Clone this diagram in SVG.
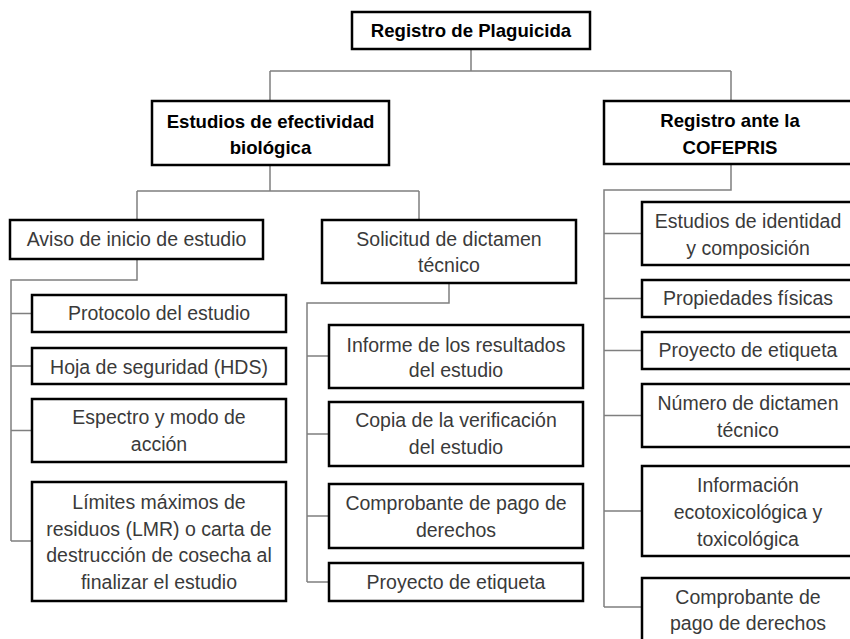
<svg xmlns="http://www.w3.org/2000/svg" width="850" height="639" viewBox="0 0 850 639">
<style>
.box{fill:#fff;stroke:#000;stroke-width:2.5}
.t{font-family:"Liberation Sans",Arial,sans-serif;font-size:19.5px;fill:#3a3a3a;text-anchor:middle}
.b{font-family:"Liberation Sans",Arial,sans-serif;font-size:18.6px;font-weight:bold;fill:#000;text-anchor:middle}
.c{fill:none;stroke:#7f7f7f;stroke-width:1.5}
</style>
<rect width="850" height="639" fill="#fff"/>
<g id="connectors">
<path class="c" d="M471,49V71M270,71H731M270,71V101M731,71V101"/>
<path class="c" d="M270,165V191M137,191H419M137,191V220M419,191V220"/>
<path class="c" d="M137,259V280H11V541M11,313.5H32M11,366H32M11,430.5H32M11,541H32"/>
<path class="c" d="M449,283V303H307V582M307,356H329M307,434H329M307,516H329M307,582H329"/>
<path class="c" d="M731,164V190H604V607M604,233.5H642M604,298.5H642M604,350.5H642M604,415.5H642M604,511H642M604,607H642"/>
</g>
<g id="n-root"><rect class="box" x="352" y="12" width="238" height="37"/><text class="b" x="471" y="37">Registro de Plaguicida</text></g>
<g id="n-efectividad"><rect class="box" x="152" y="101" width="237" height="64"/><text class="b" x="270.5" y="128">Estudios de efectividad</text><text class="b" x="270.5" y="154">biológica</text></g>
<g id="n-cofepris"><rect class="box" x="604" y="101" width="260" height="63"/><text class="b" x="730" y="127">Registro ante la</text><text class="b" x="730" y="154">COFEPRIS</text></g>
<g id="n-aviso"><rect class="box" x="10" y="220" width="253" height="39"/><text class="t" x="136.5" y="246">Aviso de inicio de estudio</text></g>
<g id="n-protocolo"><rect class="box" x="32" y="295" width="254" height="37"/><text class="t" x="159" y="320">Protocolo del estudio</text></g>
<g id="n-hoja"><rect class="box" x="32" y="348" width="254" height="36"/><text class="t" x="159" y="374">Hoja de seguridad (HDS)</text></g>
<g id="n-espectro"><rect class="box" x="32" y="399" width="254" height="63"/><text class="t" x="159" y="424">Espectro y modo de</text><text class="t" x="159" y="451">acción</text></g>
<g id="n-limites"><rect class="box" x="32" y="482" width="254" height="119"/><text class="t" x="159" y="509">Límites máximos de</text><text class="t" x="159" y="536">residuos (LMR) o carta de</text><text class="t" x="159" y="562">destrucción de cosecha al</text><text class="t" x="159" y="589">finalizar el estudio</text></g>
<g id="n-solicitud"><rect class="box" x="322" y="220" width="254" height="63"/><text class="t" x="449" y="246">Solicitud de dictamen</text><text class="t" x="449" y="272">técnico</text></g>
<g id="n-informe"><rect class="box" x="329" y="325" width="254" height="63"/><text class="t" x="456" y="352">Informe de los resultados</text><text class="t" x="456" y="377">del estudio</text></g>
<g id="n-copia"><rect class="box" x="329" y="402" width="254" height="64"/><text class="t" x="456" y="427">Copia de la verificación</text><text class="t" x="456" y="454">del estudio</text></g>
<g id="n-comprobante1"><rect class="box" x="329" y="484" width="254" height="64"/><text class="t" x="456" y="510">Comprobante de pago de</text><text class="t" x="456" y="537">derechos</text></g>
<g id="n-proyecto1"><rect class="box" x="329" y="563" width="254" height="38"/><text class="t" x="456" y="589">Proyecto de etiqueta</text></g>
<g id="n-identidad"><rect class="box" x="642" y="202" width="220" height="63"/><text class="t" x="748" y="228">Estudios de identidad</text><text class="t" x="748" y="255">y composición</text></g>
<g id="n-propiedades"><rect class="box" x="642" y="280" width="220" height="37"/><text class="t" x="748" y="305">Propiedades físicas</text></g>
<g id="n-proyecto2"><rect class="box" x="642" y="332" width="220" height="37"/><text class="t" x="748" y="357">Proyecto de etiqueta</text></g>
<g id="n-numero"><rect class="box" x="642" y="384" width="220" height="63"/><text class="t" x="748" y="410">Número de dictamen</text><text class="t" x="748" y="437">técnico</text></g>
<g id="n-informacion"><rect class="box" x="642" y="466" width="220" height="90"/><text class="t" x="748" y="492">Información</text><text class="t" x="748" y="519">ecotoxicológica y</text><text class="t" x="748" y="546">toxicológica</text></g>
<g id="n-comprobante2"><rect class="box" x="642" y="578" width="220" height="80"/><text class="t" x="748" y="604">Comprobante de</text><text class="t" x="748" y="630">pago de derechos</text></g>
</svg>
